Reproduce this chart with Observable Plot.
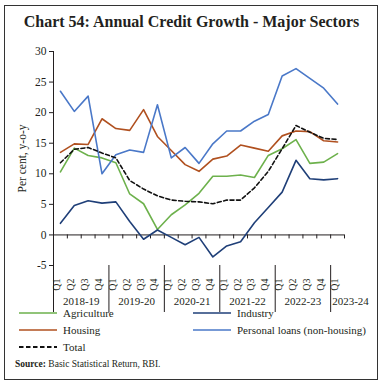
<!DOCTYPE html>
<html><head><meta charset="utf-8">
<script src="https://cdn.jsdelivr.net/npm/d3@7"></script>
<script src="https://cdn.jsdelivr.net/npm/@observablehq/plot@0.6"></script>
<style>
html,body{margin:0;padding:0;background:#fff;}
body{width:383px;height:386px;position:relative;overflow:hidden;font-family:"Liberation Serif",serif;color:#231f20;}
#box{position:absolute;left:4px;top:5px;width:374px;height:375px;border:1.5px solid #333;box-sizing:border-box;}
#title{position:absolute;left:0;top:13px;width:383px;text-align:center;font-weight:bold;font-size:16px;white-space:nowrap;}
#chart{position:absolute;left:0;top:36px;}
.lg{position:absolute;font-size:11px;white-space:nowrap;display:flex;align-items:center;}
.lg svg{margin-right:4px;}
#source{position:absolute;left:15px;top:359px;font-size:9.5px;}
</style></head>
<body>
<div id="box"></div>
<div id="title">Chart 54: Annual Credit Growth - Major Sectors</div>
<div id="chart"></div>
<div id="legend"></div>
<div id="source"><b>Source:</b> Basic Statistical Return, RBI.</div>
<script>
const quarters = ["Q1","Q2","Q3","Q4","Q1","Q2","Q3","Q4","Q1","Q2","Q3","Q4","Q1","Q2","Q3","Q4","Q1","Q2","Q3","Q4","Q1"];
const fiscalYears = ["2018-19","2019-20","2020-21","2021-22","2022-23","2023-24"];
const quartersPerYear = [4,4,4,4,4,1];
const yTicks = [-5,0,5,10,15,20,25,30];

const agriculture = [10.3,14.2,13.0,12.6,11.8,6.7,5.1,0.9,3.3,4.9,6.8,9.6,9.6,9.8,9.4,13.0,14.1,15.6,11.7,11.9,13.3];
const industry    = [1.9,4.8,5.6,5.2,5.4,2.2,-0.7,0.8,-0.4,-1.6,-0.4,-3.6,-1.8,-1.1,2.0,4.5,7.0,12.2,9.2,9.0,9.2];
const housing     = [13.5,14.9,14.8,19.0,17.4,17.1,20.5,16.1,13.8,11.5,10.4,12.4,12.9,14.7,14.2,13.7,16.2,17.0,16.9,15.4,15.2];
const personal    = [23.5,20.2,22.7,10.0,13.1,13.9,13.5,21.3,12.6,14.3,11.7,14.9,17.0,17.0,18.6,19.7,26.0,27.2,25.6,24.0,21.4];
const total       = [11.8,14.0,14.3,13.4,12.6,8.9,7.5,6.4,5.7,5.5,5.4,5.1,5.7,5.7,7.7,10.4,14.1,17.9,16.8,15.8,15.6];

const series = [
  {name:"Agriculture", values:agriculture, color:"#6DB14C", dash:null},
  {name:"Industry", values:industry, color:"#1F3F78", dash:null},
  {name:"Housing", values:housing, color:"#B0501F", dash:null},
  {name:"Personal loans (non-housing)", values:personal, color:"#4A78C8", dash:null},
  {name:"Total", values:total, color:"#111", dash:"4,2.5"}
];

const n = quarters.length;
const idx = d3.range(n);
const bounds = d3.range(n + 1).map(i => i - 0.5);
let start = 0;
const groups = fiscalYears.map((label, k) => {
  const g = {label, start, end: start + quartersPerYear[k] - 1};
  g.center = (g.start + g.end) / 2;
  start += quartersPerYear[k];
  return g;
});
const groupBounds = groups.map(g => g.start - 0.5);
const yMin = yTicks[0];

const chart = Plot.plot({
  width: 383, height: 280,
  marginLeft: 53, marginRight: 39, marginTop: 15, marginBottom: 51,
  style: {fontFamily: "Liberation Serif, serif", fontSize: "11px", color: "#231f20", background: "transparent"},
  x: {domain: [-0.5, n - 0.5], axis: null, label: null},
  y: {domain: [yMin, yTicks[yTicks.length - 1]], axis: null},
  marks: [
    Plot.axisY({ticks: yTicks, tickSize: 4, tickPadding: 3, tickFormat: d => String(d),
      label: "Per cent, y-o-y", labelAnchor: "center", labelArrow: "none", labelOffset: 36, fontSize: 11.5}),
    Plot.ruleX([-0.5], {stroke: "#231f20"}),
    Plot.ruleY([0], {stroke: "#231f20"}),
    Plot.ruleX(bounds, {x: d => d, y1: 0, y2: 0, insetBottom: -4, stroke: "#231f20"}),
    Plot.axisX({ticks: groupBounds, tickSize: 47, tickFormat: () => "", label: null, stroke: "#231f20"}),
    Plot.text(idx, {x: d => d, text: i => quarters[i], frameAnchor: "bottom", rotate: -90, textAnchor: "end", dy: 13, fontSize: 10}),
    Plot.text(groups.filter(g => g.end > g.start), {x: "center", text: "label", frameAnchor: "bottom", dy: 39, fontSize: 11}),
    Plot.text(groups.filter(g => g.end === g.start), {x: g => g.start - 0.5, text: "label", frameAnchor: "bottom", dy: 39, dx: 1.5, textAnchor: "start", fontSize: 11}),
    ...series.map(s => Plot.line(s.values, {x: (d, i) => i, y: d => d, stroke: s.color, strokeWidth: 1.6, strokeDasharray: s.dash}))
  ]
});
document.getElementById("chart").appendChild(chart);

const legendPos = [[19,314],[193,314],[19,331],[193,331],[19,348]];
const lg = document.getElementById("legend");
series.forEach((s, k) => {
  const d = document.createElement("div");
  d.className = "lg";
  d.style.left = legendPos[k][0] + "px";
  d.style.top = (legendPos[k][1] - 7) + "px";
  d.innerHTML = `<svg width="40" height="6"><line x1="0" x2="38" y1="3" y2="3" stroke="${s.color}" stroke-width="${s.dash ? 1.8 : 1.6}" ${s.dash ? 'stroke-dasharray="4.5,2.5"' : ''}/></svg><span>${s.name}</span>`;
  lg.appendChild(d);
});
</script>
</body></html>
